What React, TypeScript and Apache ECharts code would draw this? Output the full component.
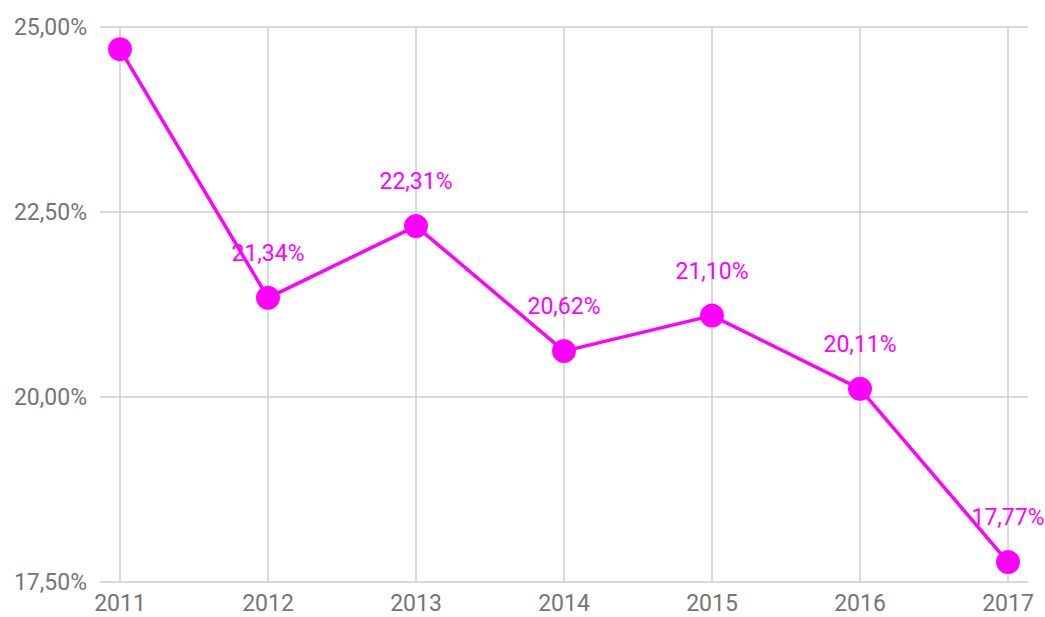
import React, { useEffect, useRef } from "react";
import * as echarts from "echarts";

const years = [2011, 2012, 2013, 2014, 2015, 2016, 2017];
const values = [24.7, 21.34, 22.31, 20.62, 21.1, 20.11, 17.77];
const hiddenLabelYears = [2011];

const fmt = (v: number) => v.toFixed(2).replace(".", ",") + "%";

export default function App() {
  const ref = useRef<HTMLDivElement>(null);
  useEffect(() => {
    if (!ref.current) return;
    const chart = echarts.init(ref.current, undefined, { renderer: "svg" });
    const pad = 20 / 148;
    chart.setOption({
      animation: false,
      textStyle: { fontFamily: "Roboto" },
      grid: { left: 100, right: 17, top: 27, bottom: 35, containLabel: false },
      xAxis: {
        type: "value",
        min: years[0] - pad,
        max: years[years.length - 1] + pad,
        axisLine: { show: false },
        axisTick: { show: false, customValues: years },
        axisLabel: {
          customValues: years,
          color: "#757575",
          fontSize: 23,
          fontFamily: "Roboto",
          margin: 10,
          formatter: (v: number) => String(Math.round(v)),
        },
        splitLine: { show: true, lineStyle: { color: "#cccccc", width: 1.5 } },
      },
      yAxis: {
        type: "value",
        min: 17.5,
        max: 25,
        interval: 2.5,
        axisLine: { show: false },
        axisTick: { show: false },
        axisLabel: {
          color: "#757575",
          fontSize: 23,
          fontFamily: "Roboto",
          margin: 13,
          formatter: (v: number) => fmt(v),
        },
        splitLine: { show: true, lineStyle: { color: "#cccccc", width: 1.5 } },
      },
      series: [
        {
          type: "line",
          data: years.map((y, i) => ({
            value: [y, values[i]],
            label: { show: !hiddenLabelYears.includes(y) },
          })),
          symbol: "circle",
          symbolSize: 24,
          lineStyle: { color: "#ff00ff", width: 3.5 },
          itemStyle: { color: "#ff00ff" },
          label: {
            show: true,
            position: "top",
            distance: 21,
            color: "#ff00ff",
            fontSize: 23,
            fontFamily: "Roboto",
            formatter: (p: any) => fmt(p.value[1]),
          },
        },
      ],
    });
    return () => chart.dispose();
  }, []);
  return (
    <div
      ref={ref}
      style={{ position: "fixed", left: 0, top: 0, width: 1045, height: 617, background: "#fff" }}
    />
  );
}
